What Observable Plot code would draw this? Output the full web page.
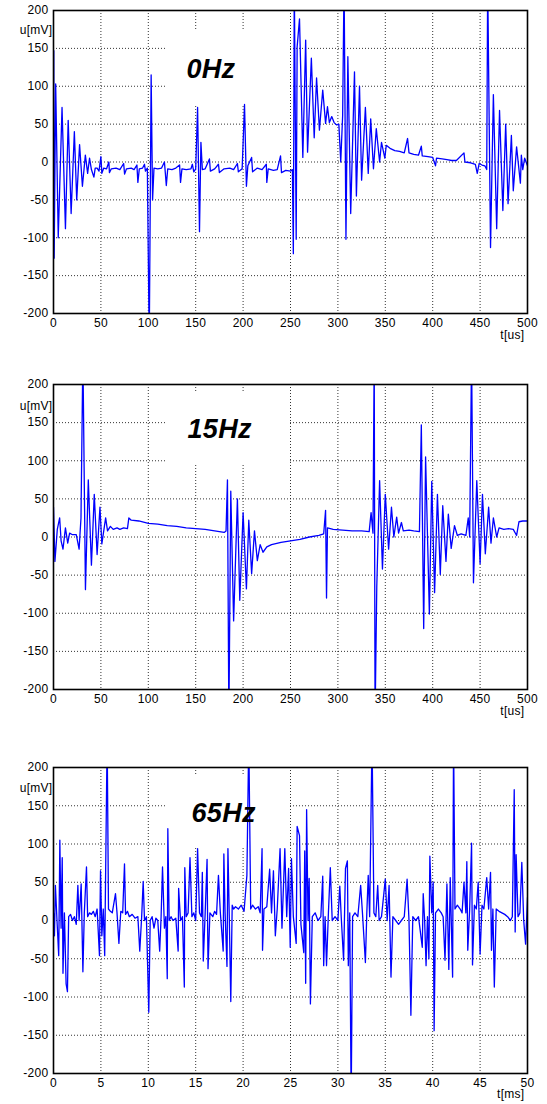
<!DOCTYPE html>
<html><head><meta charset="utf-8">
<script src="https://cdn.jsdelivr.net/npm/d3@7"></script>
<script src="https://cdn.jsdelivr.net/npm/@observablehq/plot@0.6"></script>
<style>
body{margin:0;background:#fff;width:547px;overflow:hidden}
svg{display:block}
</style></head><body><div id="c"></div>
<script>
// ---- data ----
const titles = ["0Hz", "15Hz", "65Hz"];
const yLabel = "u[mV]";
const xLabels = ["t[us]", "t[us]", "t[ms]"];
const yTicks = [-200, -150, -100, -50, 0, 50, 100, 150, 200];
const xTicksUs = [0, 50, 100, 150, 200, 250, 300, 350, 400, 450, 500];
const xTicksMs = [0, 5, 10, 15, 20, 25, 30, 35, 40, 45, 50];

// 0 Hz (t in us, u in mV)
const t0 = [0,0.3,0.7,2.3,5,9,12.6,15.5,18.6,22,24.5,27.5,30.5,33.6,36,38,40,42.6,44,46,48,50,51,53,56,58.4,59,61,66,70,74,75,77,82,85,88,89,90.5,94,96,97,99,101,103,104.5,106,110,114,117,118,119,120.5,125,129,133,134,135.5,140,145,146.5,148,150,152,154,155.5,157,160,164.5,165.5,170,174,175,180,186,190,194,195,199,201.5,203.5,205,209,210,215,220,224.5,225,226.5,232,236,239.5,240.5,245,250,252,253,254,256,257,259.5,263,266,268,272,275,277.5,280.5,284,287,289,291,293.5,296,298.5,301,303,305,306.5,308.5,310.5,313.5,317.5,319.5,322.8,325,329,332,334.6,337.5,340.5,344,346,349.5,351,355,360,365,370,373.5,375,380,385,388,389,395,400,403,404,410,415,420,425,433,434,440,445,447,449,452,455,457,458,461,464,467.5,470.5,474,477,479.5,483,485,488.5,492.5,493.5,495,497,500];
const u0 = [0,147,-127,103,-100,72,-88,55,-68,40,-50,23,-32,9,-15,5,-10,-20,-8,-8,-12,7,-15,-8,-9,0,-14,-9,-8,-10,-2,-16,-9,-8,-10,-4,-27,-9,-8,-3,-12,-8,-240,115,-50,-8,-9,-8,0,-15,-31,-9,-10,-8,-4,-27,-9,-10,-9,-3,-13,-9,72,-92,26,-10,-9,4,-12,-9,-3,-14,-9,-8,-10,-2,-13,-9,76,-32,-5,6,-13,-8,-10,-3,-27,-9,-11,-10,8,-14,-11,-12,-10,-121,240,-102,152,189,6,161,13,137,32,111,42,95,51,73,52,60,52,49,50,0,61,240,-102,139,-68,119,-45,100,-24,72,-15,57,-9,44,0,26,5,22,18,15,14,12,31,12,10,9,21,8,7,6,-5,5,4,3,2,2,12,0,-1,-3,-15,-2,-4,-5,-10,240,-113,89,-88,68,-64,50,-55,35,-38,20,-28,9,-10,5,-5];

// 15 Hz (t in us, u in mV)
const t15 = [0,1.5,4,6.5,8,10,12.6,15,17,20,24,27,28,29,31,33.7,36.7,40,43,46,49,51,55,57,60,63,67,70,74,78,79.5,82,90,100,110,120,130,140,150,160,170,180,182,183.5,185,187,190,194,196.5,200,203.5,206,209,212,215,218,221,225,230,240,250,260,270,280,285,287,288,289,295,305,315,325,333,335,337,338.3,339.2,341,344,347,350,353.5,356.5,359,362,364,367,369,375,380,386,388,390.5,392.5,396.5,399,402,405,408,410.6,414,416.5,419.5,423,426,430,435,437.5,439,441,443,446.5,450,452.5,455.5,459,461.5,464,467.5,470,475,480,485,488.5,491,495,500];
const u15 = [39,-32,10,25,-5,-16,12,-8,5,3,3,-16,5,25,240,-69,75,-37,56,-23,39,-9,25,8,14,10,12,10,12,11,25,22,21,18,17,15,14,12,11,10,8,6,8,75,-240,60,-110,50,-83,32,-68,22,-48,8,-31,-10,-20,-13,-10,-7,-5,-3,0,2,4,35,-80,12,10,9,8,8,7,32,5,240,-240,-66,74,-42,56,-16,39,0,26,5,19,8,9,8,7,147,-120,105,-101,73,-73,56,-49,41,-32,30,-15,15,2,4,2,25,0,240,-60,74,-35,56,-22,39,-8,25,0,12,10,11,10,2,20,21,21];

// 65 Hz (t in ms, u in mV)
const t65 = [0,0.1,0.2,0.35,0.55,0.67,0.8,0.92,1.0,1.15,1.33,1.47,1.6,1.8,2.0,2.2,2.4,2.57,2.7,2.92,3.1,3.25,3.48,3.6,3.8,4.0,4.2,4.4,4.6,4.85,4.96,5.1,5.25,5.4,5.66,5.8,6.0,6.2,6.54,6.7,6.9,7.1,7.3,7.49,7.6,7.8,8.0,8.3,8.6,8.9,9.1,9.3,9.46,9.6,9.8,10.05,10.2,10.4,10.6,10.8,11.0,11.2,11.35,11.5,11.7,11.85,12.0,12.06,12.2,12.4,12.6,12.9,13.15,13.2,13.4,13.6,13.8,13.85,14.0,14.2,14.4,14.6,14.8,15.0,15.2,15.4,15.6,15.7,15.8,16.0,16.2,16.3,16.5,16.8,17.0,17.2,17.4,17.6,17.9,17.97,18.1,18.3,18.4,18.55,18.7,18.85,19.0,19.2,19.5,19.8,20.1,20.4,20.6,20.8,21.0,21.3,21.6,21.8,22.0,22.05,22.2,22.5,22.8,23.0,23.2,23.4,23.6,23.9,24.1,24.4,24.6,24.8,24.97,25.1,25.3,25.6,25.7,25.95,26.1,26.4,26.5,26.6,26.7,26.85,26.97,27.1,27.3,27.6,27.9,28.2,28.4,28.5,28.65,28.8,29.0,29.2,29.4,29.7,30.0,30.2,30.35,30.6,30.8,31.0,31.1,31.25,31.4,31.55,31.8,32.1,32.4,32.6,32.9,33.05,33.2,33.35,33.6,33.8,34.0,34.2,34.35,34.6,35.0,35.2,35.4,35.6,35.8,36.1,36.4,36.7,37.0,37.3,37.5,37.7,37.9,38.2,38.5,38.9,39.0,39.15,39.3,39.45,39.6,39.7,39.9,40.05,40.15,40.3,40.6,40.9,41.1,41.3,41.5,41.7,41.85,42.1,42.2,42.35,42.6,42.9,43.1,43.3,43.5,43.6,43.7,43.9,44.1,44.2,44.4,44.6,44.8,45.0,45.2,45.4,45.7,45.9,46.1,46.2,46.35,46.5,46.7,47.0,47.3,47.6,47.9,48.2,48.4,48.6,48.7,48.8,49.0,49.2,49.4,49.6,49.8,50.0];
const u65 = [10,-20,46,5,-46,105,-10,82,-69,10,-83,-93,5,8,0,5,-5,46,0,48,-67,10,70,5,10,8,12,5,15,-46,65,-20,15,-46,240,15,12,10,35,10,-30,12,10,74,8,12,5,8,3,5,-40,5,51,0,5,-120,0,5,-10,3,0,-40,5,70,-10,5,-76,120,0,5,0,3,-40,42,0,5,-87,69,5,10,82,5,10,0,94,10,5,63,-53,10,80,-63,10,5,12,8,59,10,-40,87,10,-60,94,0,-106,20,15,18,15,20,12,59,240,15,20,15,18,10,94,-39,15,18,67,10,65,-20,15,94,-10,94,5,68,-35,81,5,-30,123,111,-5,-42,91,-82,145,0,55,-109,5,10,0,5,58,-59,5,-59,10,69,0,5,0,45,5,-52,68,78,-59,10,-240,5,10,5,46,8,-55,10,59,5,240,10,5,46,0,5,54,0,46,-74,5,0,-5,0,5,54,0,-124,5,0,5,-35,35,0,-59,5,-50,84,10,50,-144,10,15,10,5,-52,48,-64,56,-74,240,15,20,15,10,50,10,77,-39,15,101,-58,20,15,50,-44,20,15,56,15,63,-39,15,-87,15,12,10,8,5,0,5,171,-15,86,5,10,76,0,-31,30];

// ---- drawing ----
const FONT = "'Liberation Sans', Arial, Helvetica, sans-serif";

function whiteBox(x1, y1, x2, y2) {
  return function () {
    const dims = Array.from(arguments).find(a => a && typeof a === "object" && "marginLeft" in a && "marginTop" in a);
    const r = document.createElementNS("http://www.w3.org/2000/svg", "rect");
    r.setAttribute("x", dims.marginLeft + x1);
    r.setAttribute("y", dims.marginTop + y1);
    r.setAttribute("width", x2 - x1);
    r.setAttribute("height", y2 - y1);
    r.setAttribute("fill", "#fff");
    return r;
  };
}

function panel(cfg) {
  const {t, u, title, xTicks, xLabel, height, mt, mb, box, titleDx, titleDy, uDy, tDy} = cfg;
  if (t.length !== u.length) throw new Error("length mismatch " + title + " " + t.length + " " + u.length);
  const data = t.map((x, i) => ({t: x, u: u[i]}));
  const grid = {stroke: "#000", strokeOpacity: 0.8, strokeDasharray: "1,2", strokeWidth: 1};
  return Plot.plot({
    width: 547, height,
    marginLeft: 53, marginRight: 20, marginTop: mt, marginBottom: mb,
    style: {fontFamily: FONT, fontSize: "12px", background: "#fff", color: "#000", letterSpacing: "0.3px"},
    x: {domain: [xTicks[0], xTicks[xTicks.length - 1]]},
    y: {domain: [-200, 200]},
    marks: [
      Plot.gridX(xTicks, grid),
      Plot.gridY(yTicks, grid),
      whiteBox(...box),
      Plot.line(data, {x: "t", y: "u", stroke: "#0000ff", strokeWidth: 1.3, clip: true}),
      Plot.frame({stroke: "#000", strokeWidth: 1.6}),
      Plot.axisX({ticks: xTicks, tickSize: 0, tickPadding: 5, tickFormat: d => String(d), label: null}),
      Plot.axisY({ticks: yTicks, tickSize: 0, tickPadding: 5, tickFormat: d => String(d), label: null}),
      Plot.text([yLabel], {text: d => d, frameAnchor: "top-left", textAnchor: "end", dx: -1, dy: uDy, fontSize: 12}),
      Plot.text([xLabel], {text: d => d, frameAnchor: "bottom-right", textAnchor: "end", dx: -3, dy: tDy, fontSize: 12}),
      Plot.text([title], {text: d => d, frameAnchor: "top-left", textAnchor: "start", dx: titleDx, dy: titleDy,
        fontSize: 27, fontWeight: "bold", fontStyle: "italic", fill: "#000"})
    ]
  });
}

const c = document.getElementById("c");
c.append(panel({t: t0, u: u0, title: titles[0], xTicks: xTicksUs, xLabel: xLabels[0],
  height: 350, mt: 10, mb: 37, box: [113, 19, 235, 94], titleDx: 133, titleDy: 48, uDy: 15, tDy: 25}));
c.append(panel({t: t15, u: u15, title: titles[1], xTicks: xTicksUs, xLabel: xLabels[1],
  height: 380, mt: 34, mb: 41, box: [113, 7, 235, 80], titleDx: 134, titleDy: 34, uDy: 17, tDy: 25}));
c.append(panel({t: t65, u: u65, title: titles[2], xTicks: xTicksMs, xLabel: xLabels[2],
  height: 374, mt: 37, mb: 31, box: [113, 8, 235, 81], titleDx: 138, titleDy: 35, uDy: 16, tDy: 24}));
</script>
</body></html>
